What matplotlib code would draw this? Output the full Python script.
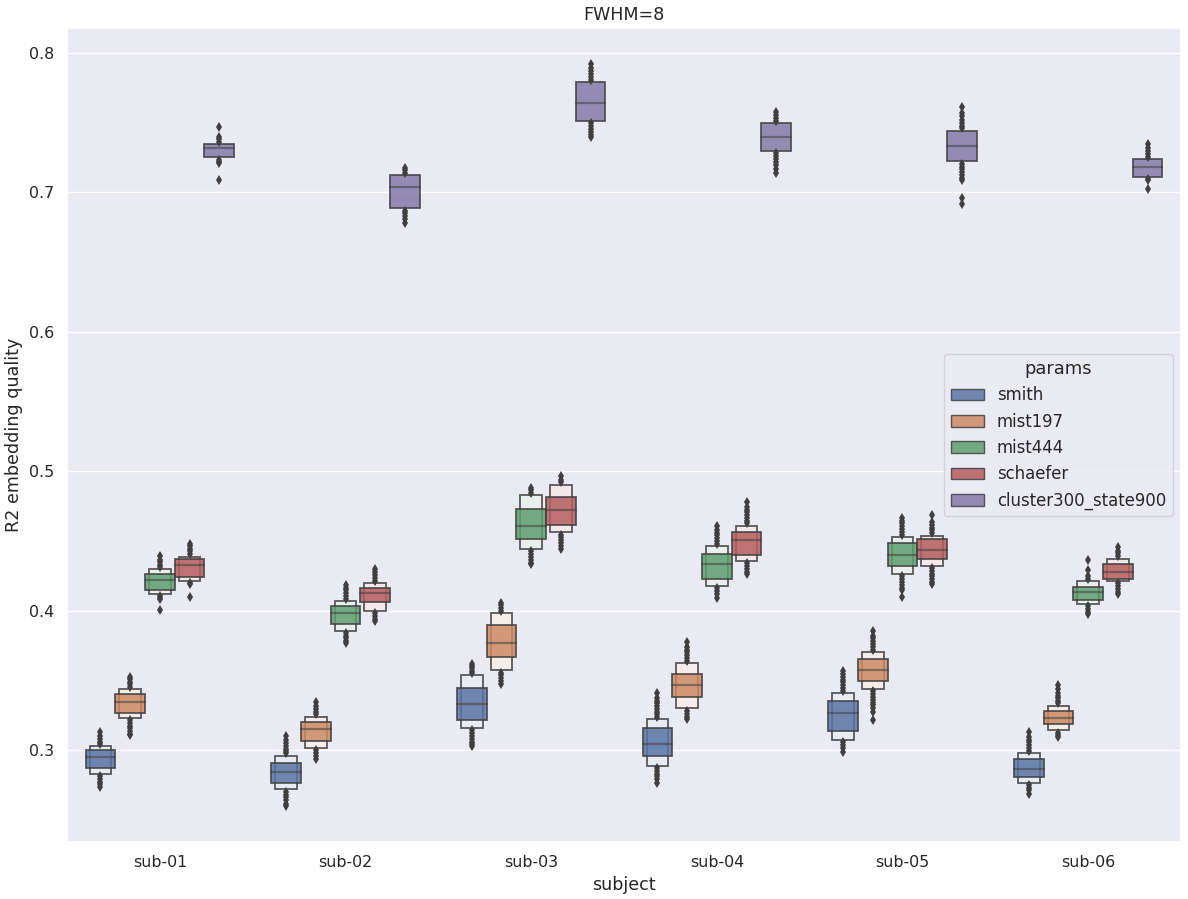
import matplotlib
matplotlib.use("Agg")
import matplotlib.pyplot as plt
from matplotlib.patches import Rectangle, Patch
from matplotlib.colors import to_rgb
import seaborn as sns

subjects = ["sub-01", "sub-02", "sub-03", "sub-04", "sub-05", "sub-06"]
params = ["smith", "mist197", "mist444", "schaefer", "cluster300_state900"]

# letter values, per param, per subject
median = {
    "smith":    [0.2950, 0.2844, 0.3332, 0.3045, 0.3265, 0.2862],
    "mist197":  [0.3346, 0.3153, 0.3770, 0.3468, 0.3574, 0.3232],
    "mist444":  [0.4220, 0.3985, 0.4609, 0.4334, 0.4399, 0.4131],
    "schaefer": [0.4327, 0.4128, 0.4722, 0.4506, 0.4435, 0.4279],
    "cluster300_state900": [0.7316, 0.7041, 0.7639, 0.7400, 0.7335, 0.7184],
}
q1 = {
    "smith":    [0.2871, 0.2766, 0.3217, 0.2955, 0.3139, 0.2806],
    "mist197":  [0.3265, 0.3065, 0.3669, 0.3380, 0.3495, 0.3184],
    "mist444":  [0.4146, 0.3902, 0.4514, 0.4227, 0.4320, 0.4074],
    "schaefer": [0.4239, 0.4062, 0.4616, 0.4401, 0.4370, 0.4227],
    "cluster300_state900": [0.7254, 0.6888, 0.7512, 0.7297, 0.7225, 0.7113],
}
q3 = {
    "smith":    [0.3000, 0.2909, 0.3447, 0.3156, 0.3354, 0.2938],
    "mist197":  [0.3400, 0.3203, 0.3897, 0.3547, 0.3655, 0.3282],
    "mist444":  [0.4260, 0.4035, 0.4729, 0.4408, 0.4487, 0.4171],
    "schaefer": [0.4368, 0.4164, 0.4815, 0.4564, 0.4514, 0.4332],
    "cluster300_state900": [0.7347, 0.7125, 0.7794, 0.7500, 0.7443, 0.7237],
}
low8 = {
    "smith":    [0.2828, 0.2720, 0.3158, 0.2885, 0.3072, 0.2766],
    "mist197":  [0.3230, 0.3017, 0.3574, 0.3299, 0.3438, 0.3141],
    "mist444":  [0.4119, 0.3854, 0.4442, 0.4176, 0.4263, 0.4047],
    "schaefer": [0.4214, 0.3995, 0.4564, 0.4356, 0.4320, 0.4212],
    "cluster300_state900": [None] * 6,
}
high8 = {
    "smith":    [0.3029, 0.2959, 0.3540, 0.3220, 0.3407, 0.2976],
    "mist197":  [0.3435, 0.3239, 0.3985, 0.3622, 0.3705, 0.3318],
    "mist444":  [0.4296, 0.4071, 0.4831, 0.4466, 0.4530, 0.4214],
    "schaefer": [0.4387, 0.4200, 0.4903, 0.4609, 0.4537, 0.4372],
    "cluster300_state900": [None] * 6,
}
outliers = {
    "smith": [
        [0.3045, 0.306, 0.308, 0.310, 0.3127, 0.281, 0.279, 0.277, 0.2755, 0.2735],
        [0.2975, 0.299, 0.301, 0.303, 0.305, 0.3075, 0.3103, 0.270, 0.268, 0.266, 0.264, 0.2615, 0.2596],
        [0.3555, 0.357, 0.359, 0.3605, 0.3619, 0.314, 0.312, 0.310, 0.308, 0.306, 0.304, 0.3027],
        [0.3235, 0.3255, 0.3275, 0.3295, 0.3315, 0.3335, 0.3355, 0.3375, 0.3409, 0.287, 0.285, 0.283, 0.281, 0.279, 0.2763],
        [0.3425, 0.3445, 0.3465, 0.3485, 0.3505, 0.3525, 0.3545, 0.3565, 0.3055, 0.3035, 0.3015, 0.2986],
        [0.2995, 0.3015, 0.3035, 0.3055, 0.3075, 0.3095, 0.3127, 0.275, 0.273, 0.271, 0.2687],
    ],
    "mist197": [
        [0.345, 0.347, 0.349, 0.351, 0.3524, 0.3215, 0.3195, 0.3175, 0.3155, 0.3135, 0.3115, 0.3106],
        [0.3255, 0.3275, 0.3295, 0.3315, 0.3342, 0.300, 0.298, 0.296, 0.2933],
        [0.400, 0.402, 0.404, 0.4055, 0.3555, 0.3535, 0.3515, 0.3495, 0.3471],
        [0.364, 0.366, 0.368, 0.370, 0.372, 0.374, 0.3773, 0.328, 0.326, 0.324, 0.322],
        [0.372, 0.374, 0.376, 0.378, 0.380, 0.382, 0.3856, 0.342, 0.340, 0.338, 0.336, 0.334, 0.332, 0.330, 0.327, 0.3215],
        [0.3335, 0.3355, 0.3375, 0.339, 0.341, 0.3435, 0.3464, 0.3125, 0.311, 0.3093],
    ],
    "mist444": [
        [0.431, 0.433, 0.435, 0.4365, 0.4389, 0.4105, 0.409, 0.4083, 0.4004],
        [0.4085, 0.4105, 0.4125, 0.4145, 0.4165, 0.4181, 0.384, 0.382, 0.380, 0.378, 0.3770],
        [0.4845, 0.4865, 0.488, 0.4425, 0.4405, 0.4385, 0.4365, 0.4345, 0.4332],
        [0.448, 0.450, 0.452, 0.454, 0.456, 0.458, 0.4605, 0.416, 0.414, 0.412, 0.4093],
        [0.4545, 0.4565, 0.4585, 0.4605, 0.4625, 0.4645, 0.4664, 0.4245, 0.4225, 0.4205, 0.4185, 0.4165, 0.4148, 0.4095],
        [0.4225, 0.425, 0.4291, 0.4360, 0.403, 0.401, 0.399, 0.3973],
    ],
    "schaefer": [
        [0.4405, 0.4425, 0.4445, 0.4465, 0.448, 0.420, 0.4191, 0.4095],
        [0.4215, 0.4235, 0.4255, 0.4275, 0.4298, 0.398, 0.396, 0.394, 0.3923],
        [0.492, 0.494, 0.4965, 0.4545, 0.4525, 0.4505, 0.4485, 0.4465, 0.4440],
        [0.4625, 0.4645, 0.4665, 0.4685, 0.4705, 0.4725, 0.4745, 0.4777, 0.434, 0.432, 0.430, 0.428, 0.4260],
        [0.4555, 0.4575, 0.4595, 0.4615, 0.4638, 0.4686, 0.4305, 0.4285, 0.4265, 0.4245, 0.4225, 0.4205, 0.4189],
        [0.439, 0.441, 0.443, 0.4456, 0.4195, 0.4175, 0.4155, 0.4135, 0.4117],
    ],
    "cluster300_state900": [
        [0.7365, 0.738, 0.7397, 0.7467, 0.7235, 0.722, 0.7211, 0.7089],
        [0.714, 0.716, 0.7175, 0.687, 0.685, 0.683, 0.681, 0.6783],
        [0.781, 0.783, 0.785, 0.787, 0.7895, 0.7923, 0.7495, 0.7475, 0.7455, 0.7435, 0.7415, 0.7397],
        [0.7515, 0.7535, 0.7555, 0.7575, 0.728, 0.726, 0.724, 0.722, 0.7195, 0.7165, 0.7139],
        [0.746, 0.748, 0.750, 0.752, 0.7545, 0.757, 0.7615, 0.7205, 0.7185, 0.7165, 0.7145, 0.7125, 0.7105, 0.7089, 0.6960, 0.6917],
        [0.7255, 0.7275, 0.7295, 0.732, 0.7349, 0.7095, 0.7089, 0.7022],
    ],
}

sns.set_theme(style="darkgrid")
plt.rcParams["font.family"] = ["DejaVu Sans"]

colors = ["#5975a4", "#cc8963", "#5f9e6e", "#b55d60", "#857aab"]
gray = "#3f3f3f"

def lighten(c, f=0.86):
    r, g, b = to_rgb(c)
    return (r + (1 - r) * f, g + (1 - g) * f, b + (1 - b) * f)

fig = plt.figure(figsize=(11.88, 8.99), dpi=100)
ax = fig.add_axes([0.0564, 0.0634, 0.9377, 0.9055])

n = len(params)
each = 0.8 / n
inner_w = each
outer_w = each * 0.73

for j, p in enumerate(params):
    off = -0.4 + each / 2 + j * each
    col = colors[j]
    for i in range(len(subjects)):
        x = i + off
        if low8[p][i] is not None:
            ax.add_patch(Rectangle((x - outer_w / 2, low8[p][i]), outer_w,
                                   high8[p][i] - low8[p][i],
                                   facecolor=lighten(col), edgecolor=gray,
                                   linewidth=1.3, alpha=0.85, zorder=2))
        ax.add_patch(Rectangle((x - inner_w / 2, q1[p][i]), inner_w,
                               q3[p][i] - q1[p][i],
                               facecolor=col, edgecolor=gray,
                               linewidth=1.3, alpha=0.85, zorder=3))
        ax.plot([x - inner_w / 2, x + inner_w / 2], [median[p][i]] * 2,
                color=gray, alpha=0.55, lw=1.6, zorder=4)
        ov = outliers[p][i]
        ax.plot([x] * len(ov), ov, linestyle="none", marker="d",
                markersize=5.5, color=gray, markeredgewidth=0, zorder=4)

ax.set_xlim(-0.5, len(subjects) - 0.5)
ax.set_ylim(0.234, 0.818)
ax.set_xticks(range(len(subjects)))
ax.set_xticklabels(subjects)
ax.set_yticks([0.3, 0.4, 0.5, 0.6, 0.7, 0.8])
ax.set_yticklabels(["0.3", "0.4", "0.5", "0.6", "0.7", "0.8"])
ax.grid(False, axis="x")
ax.grid(True, axis="y", color="white", lw=1.0)
ax.tick_params(labelsize=11.4)
ax.set_xlabel("subject", fontsize=12.6)
ax.set_ylabel("R2 embedding quality", fontsize=12.6)
ax.set_title("FWHM=8", fontsize=12.6)

handles = [Patch(facecolor=c, edgecolor=gray, linewidth=1.0, alpha=0.85) for c in colors]
leg = ax.legend(handles, params, title="params", loc="center right",
                fontsize=11.9, title_fontsize=12.9)

fig.savefig("out.png", dpi=100)
